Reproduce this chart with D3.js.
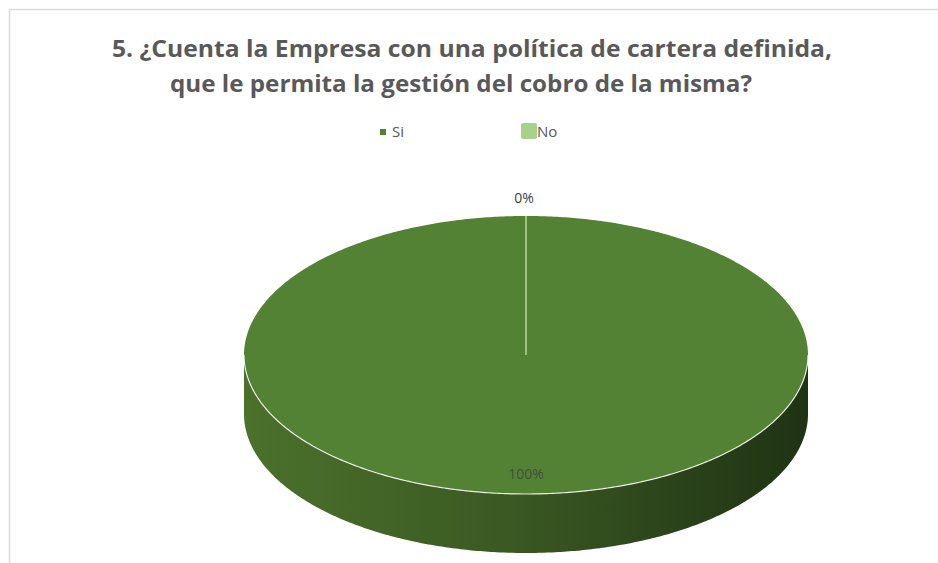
<!DOCTYPE html>
<html>
<head>
<meta charset="utf-8">
<script src="https://cdn.jsdelivr.net/npm/d3@7"></script>
<style>
  html, body { margin: 0; padding: 0; background: #fff; }
  svg { display: block; }
</style>
</head>
<body>
<div id="content"></div>
<script>
// Données
var categories = ["Si", "No"];
var values = [100, 0];
var labels = ["100%", "0%"];
var colors = ["#548235", "#a9d18e"];

var width = 938, height = 563;
var svg = d3.select("#content").append("svg")
    .attr("width", width).attr("height", height);

// cadre
svg.append("path")
    .attr("d", "M9.5," + height + "V9.5H" + width)
    .attr("fill", "none").attr("stroke", "#d9d9d9").attr("stroke-width", 1.5);

// titre
var title = svg.append("text")
    .attr("text-anchor", "middle")
    .attr("fill", "#595959")
    .attr("font-family", "'Open Sans', sans-serif")
    .attr("font-weight", "bold")
    .attr("font-size", 24);
title.append("tspan").attr("x", 472).attr("y", 57)
    .attr("textLength", 720).attr("lengthAdjust", "spacingAndGlyphs")
    .text("5. ¿Cuenta la Empresa con una política de cartera definida,");
title.append("tspan").attr("x", 461).attr("y", 92)
    .attr("textLength", 582).attr("lengthAdjust", "spacingAndGlyphs")
    .text("que le permita la gestión del cobro de la misma?");

// légende
var legend = svg.append("g").attr("font-family", "'Open Sans', sans-serif")
    .attr("font-size", 15).attr("fill", "#595959");
legend.append("rect").attr("x", 380).attr("y", 129).attr("width", 6).attr("height", 6)
    .attr("fill", colors[0]);
legend.append("text").attr("x", 392).attr("y", 137).text(categories[0]);
legend.append("rect").attr("x", 521).attr("y", 123).attr("width", 16).attr("height", 16)
    .attr("rx", 2).attr("fill", colors[1]);
legend.append("text").attr("x", 537).attr("y", 137).text(categories[1]);

// camembert 3D
var cx = 526, cy = 355, rx = 282, ry = 139, depth = 59;
var pie = d3.pie().sort(null).value(d => d)(values);

function pt(a, dy) {
  return [cx + rx * Math.sin(a), cy - ry * Math.cos(a) + (dy || 0)];
}
function arcPts(a0, a1, dy) {
  var n = Math.max(2, Math.ceil(Math.abs(a1 - a0) / 0.01)), p = [];
  for (var i = 0; i <= n; i++) p.push(pt(a0 + (a1 - a0) * i / n, dy));
  return p;
}

var defs = svg.append("defs");
var grad = defs.append("linearGradient").attr("id", "side")
    .attr("x1", 0).attr("x2", 1).attr("y1", 0).attr("y2", 0);
grad.append("stop").attr("offset", "0%").attr("stop-color", "#4b712c");
grad.append("stop").attr("offset", "45%").attr("stop-color", "#3b5a23");
grad.append("stop").attr("offset", "100%").attr("stop-color", "#1f3314");

// côté avant (angles entre pi/2 et 3pi/2)
pie.forEach(function(d, i) {
  var a0 = Math.max(d.startAngle, Math.PI / 2), a1 = Math.min(d.endAngle, 3 * Math.PI / 2);
  if (a1 <= a0) return;
  var top = arcPts(a0, a1, 0), bot = arcPts(a1, a0, depth);
  svg.append("path")
      .attr("d", "M" + top.concat(bot).join("L") + "Z")
      .attr("fill", "url(#side)");
});

// dessus
pie.forEach(function(d, i) {
  var g = svg.append("g");
  if (d.endAngle - d.startAngle > 0) {
    var p = arcPts(d.startAngle, d.endAngle, 0);
    g.append("path")
        .attr("d", "M" + [cx, cy] + "L" + p.join("L") + "Z")
        .attr("fill", colors[i]);
  }
});
// bord blanc avant
svg.append("path")
    .attr("d", "M" + arcPts(Math.PI / 2, 3 * Math.PI / 2, 0).join("L"))
    .attr("fill", "none").attr("stroke", "#ffffff").attr("stroke-opacity", 0.85).attr("stroke-width", 1.2);
// séparation des parts
pie.forEach(function(d) {
  svg.append("line")
      .attr("x1", cx).attr("y1", cy)
      .attr("x2", pt(d.startAngle)[0]).attr("y2", pt(d.startAngle)[1])
      .attr("stroke", colors[1]).attr("stroke-width", 1.2);
});

// étiquettes
svg.append("text").attr("x", cx).attr("y", 479).attr("text-anchor", "middle")
    .attr("font-family", "'Open Sans', sans-serif").attr("font-size", 14)
    .attr("fill", "#3f3f3f").attr("fill-opacity", 0.8).text(labels[0]);
svg.append("text").attr("x", cx - 2).attr("y", 203).attr("text-anchor", "middle")
    .attr("font-family", "'Open Sans', sans-serif").attr("font-size", 14)
    .attr("fill", "#404040").text(labels[1]);
</script>
</body>
</html>
